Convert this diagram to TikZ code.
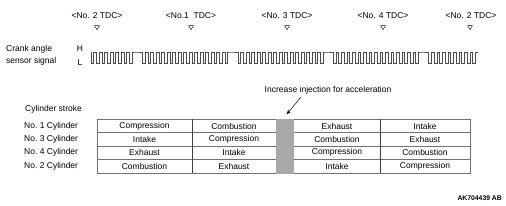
\documentclass[tikz,border=0pt]{standalone}
\usepackage{fontspec}
\setmainfont{Liberation Sans}
\usetikzlibrary{arrows.meta,shapes.geometric}
\definecolor{bandgray}{HTML}{A8A8A8}

\begin{document}
\begin{tikzpicture}[x=1pt, y=-1pt, font=\fontsize{8.5}{10}\selectfont, >=Stealth,
  lbl/.style={inner sep=0pt},
  tdcmark/.style={draw, regular polygon, regular polygon sides=3, shape border rotate=180,
    minimum size=5.5pt, inner sep=0pt, line width=0.4pt},
  signal/.style={draw=black!70, line width=0.6pt},
  tblline/.style={draw=black!55, line width=0.6pt}]
  \useasboundingbox (0,0) rectangle (506,206);

  % TDC marks
  \node[lbl] (tdcA) at (97,16) {\textless No. 2 TDC\textgreater};
  \node[lbl] (tdcB) at (191,16) {\textless No.1~ TDC\textgreater};
  \node[lbl] (tdcC) at (287,16) {\textless No. 3 TDC\textgreater};
  \node[lbl] (tdcD) at (383,16) {\textless No. 4 TDC\textgreater};
  \node[lbl] (tdcE) at (471,16) {\textless No. 2 TDC\textgreater};
  \node[tdcmark] (mkA) at (97,27) {};
  \node[tdcmark] (mkB) at (191,27) {};
  \node[tdcmark] (mkC) at (287,27) {};
  \node[tdcmark] (mkD) at (383,27) {};
  \node[tdcmark] (mkE) at (470,27) {};

  % crank angle sensor signal
  \node[lbl, anchor=west, align=left] (crank) at (6,55.5) {Crank angle\\[2.5pt]sensor signal};
  \node[lbl] (hlev) at (80,49) {H};
  \node[lbl] (llev) at (80,63) {L};
  \draw[signal] (91,52)
    \foreach \i in {1,...,8} { -- ++(0,11) -- ++(2.75,0) -- ++(0,-11) -- ++(2.75,0) } -- ++(7.4,0)
    \foreach \i in {1,...,16} { -- ++(0,11) -- ++(2.75,0) -- ++(0,-11) -- ++(2.75,0) } -- ++(7.4,0)
    \foreach \i in {1,...,16} { -- ++(0,11) -- ++(2.75,0) -- ++(0,-11) -- ++(2.75,0) } -- ++(7.4,0)
    \foreach \i in {1,...,16} { -- ++(0,11) -- ++(2.75,0) -- ++(0,-11) -- ++(2.75,0) } -- ++(7.4,0)
    \foreach \i in {1,...,9} { -- ++(0,11) -- ++(2.75,0) -- ++(0,-11) -- ++(2.75,0) };

  % cylinder stroke table
  \node[lbl, anchor=west] (stroke) at (25,109) {Cylinder stroke};
  \draw[tblline] (97,119) rectangle (470,173);
  \draw[tblline, line width=1pt] (97,119) -- (97,173);
  \foreach \y in {132.5,146,159.5}
    \draw[tblline] (97,\y) -- (470,\y);
  \foreach \x in {192,380}
    \draw[tblline, draw=black!75] (\x,119) -- (\x,173);
  \fill[bandgray] (276,118.5) rectangle (294,173.5);
  \foreach \y/\n/\a/\b/\c/\d in {126/1/Compression/Combustion/Exhaust/Intake,
      139.3/3/Intake/Compression/Combustion/Exhaust,
      152.8/4/Exhaust/Intake/Compression/Combustion,
      166.3/2/Combustion/Exhaust/Intake/Compression} {
    \node[lbl, anchor=west] (cyl\n) at (24,\y) {No.~\n{} Cylinder};
    \node[lbl] (ca\n) at (144.5,\y) {\a};
    \node[lbl] (cb\n) at (234,\y) {\b};
    \node[lbl] (cc\n) at (337,\y) {\c};
    \node[lbl] (cd\n) at (425,\y) {\d};
  }

  % injection note
  \node[lbl] (incr) at (328,90) {Increase injection for acceleration};
  \coordinate (arrfrom) at (301,97);
  \coordinate (arrtip) at (286.5,114.5);
  \draw[-{Stealth[length=5pt,width=3.5pt]}, line width=0.5pt] (arrfrom) -- (arrtip);

  \node[lbl, anchor=east, font=\bfseries\fontsize{6.8}{8}\selectfont] (figid) at (502,198) {AK704439 AB};
\end{tikzpicture}
\end{document}
